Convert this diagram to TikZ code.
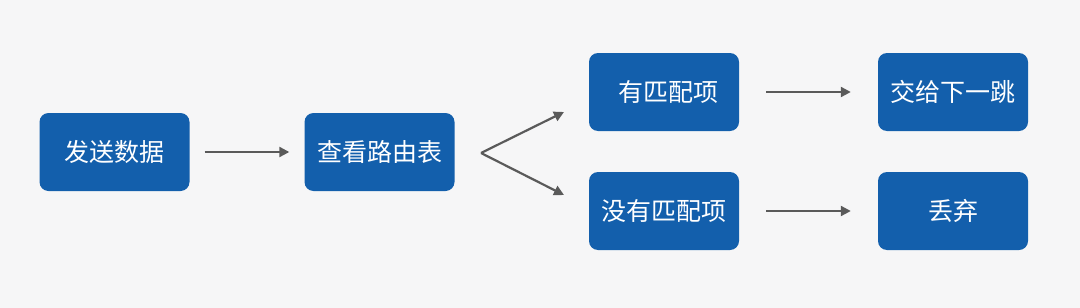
\documentclass[tikz,border=0pt]{standalone}
\usepackage{fontspec}
\setmainfont{Noto Sans CJK SC}
\usetikzlibrary{arrows.meta}
\definecolor{bgc}{HTML}{F6F6F7}
\definecolor{boxc}{HTML}{135FAC}
\definecolor{arrc}{HTML}{5A5A5A}
\begin{document}
\begin{tikzpicture}[x=1pt,y=-1pt,
  box/.style={fill=boxc,rounded corners=9pt,minimum width=150pt,minimum height=78pt,
    inner sep=0pt,text=white,font=\fontsize{25pt}{29pt}\selectfont},
  conn/.style={draw=arrc,line width=2.2pt,-{Triangle[length=10pt,width=10pt]}}]
\fill[bgc] (0,0) rectangle (1080,308);
\useasboundingbox (0,0) rectangle (1080,308);
\node[box] (b1) at (114.5,152) {发送数据};
\node[box] (b2) at (379.5,152) {查看路由表};
\node[box] (b3) at (664,92) {\hspace*{8pt}有匹配项};
\node[box] (b4) at (664,211) {没有匹配项};
\node[box] (b5) at (953,92) {交给下一跳};
\node[box] (b6) at (953,211) {丢弃};
\coordinate (v) at (481,153);
\coordinate (t1) at (564,112);
\coordinate (t2) at (564,195);
\draw[conn] ([xshift=15pt]b1.east) -- ([xshift=-15pt]b2.west);
\draw[conn] (v) -- (t1);
\draw[conn] (v) -- (t2);
\draw[conn] ([xshift=27pt]b3.east) -- ([xshift=-27pt]b5.west);
\draw[conn] ([xshift=27pt]b4.east) -- ([xshift=-27pt]b6.west);
\end{tikzpicture}
\end{document}
